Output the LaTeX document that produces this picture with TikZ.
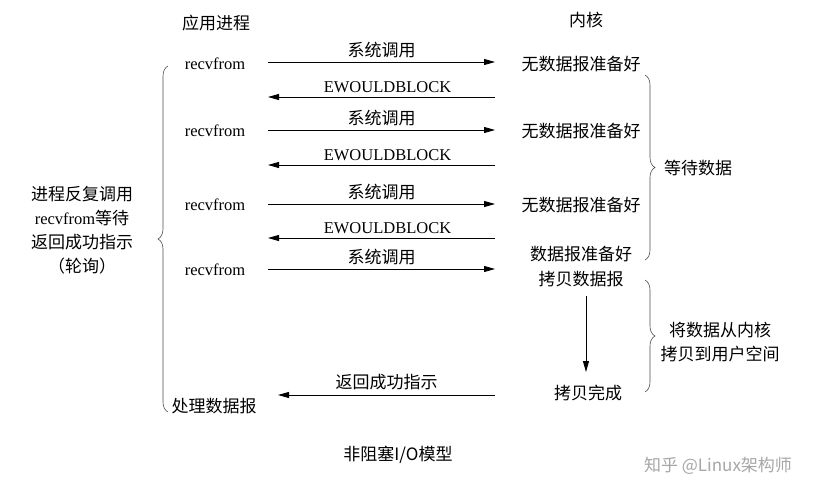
\documentclass[tikz,border=0pt]{standalone}
\usepackage{fontspec}
\setmainfont{Liberation Serif}
\newfontfamily\cjk{Noto Sans CJK SC}
\usetikzlibrary{decorations.pathreplacing,arrows.meta}
\begin{document}
\begin{tikzpicture}[x=1pt,y=-1pt,
  t/.style={font=\fontsize{16.5}{19}\selectfont,inner sep=1pt},
  c/.style={inner sep=1pt,font=\fontsize{17}{20}\selectfont\cjk},
  ar/.style={-{Triangle[length=11pt,width=6pt]},line width=0.8pt},
  br/.style={decorate,decoration={brace,amplitude=10pt},line width=0.6pt,gray!60!black}]
\useasboundingbox (0,0) rectangle (822,500);
\node[c] (hA) at (216,23) {应用进程};
\node[c] (hK) at (586,20) {内核};
\foreach \y/\n in {64/1,131/2,205/3,270/4}{\node[t] (r\n) at (215,\y) {recvfrom};}
\foreach \y/\n in {62/1,130/2,204/3,269/4}{
  \coordinate (s\n) at (268,\y); \coordinate (e\n) at (495,\y);
  \draw[ar] (s\n) -- (e\n) node[c,midway,above=3pt] {系统调用};}
\foreach \y/\n in {97/1,165/2,238/3}{
  \coordinate (a\n) at (495,\y); \coordinate (b\n) at (268,\y);
  \draw[ar] (a\n) -- (b\n) node[t,midway,above=3pt,xshift=6pt] {EWOULDBLOCK};}
\foreach \y/\n in {64/1,131/2,205/3}{\node[c] (k\n) at (581,\y) {无数据报准备好};}
\node[c] (k4) at (581,254) {数据报准备好};
\node[c] (k5) at (581,279) {拷贝数据报};
\node[c] (k6) at (588,393) {拷贝完成};
\coordinate (d1) at (586,296); \coordinate (d2) at (586,372);
\draw[ar] (d1) -- (d2);
\coordinate (ra) at (495,395); \coordinate (rb) at (278,395);
\draw[ar] (ra) -- (rb) node[c,midway,above=4pt] {返回成功指示};
\node[c] (p) at (214,406) {处理数据报};
\coordinate (L1) at (168,412); \coordinate (L2) at (168,66);
\draw[br] (L1) -- (L2);
\node[align=center,inner sep=1pt,font=\fontsize{17}{24}\selectfont\cjk] (lt) at (82,230) {进程反复调用\\{\fontsize{16.5}{24}\selectfont\rmfamily recvfrom}等待\\返回成功指示\\（轮询）};
\coordinate (R1) at (645,75); \coordinate (R2) at (645,260);
\draw[br] (R1) -- (R2);
\node[c] (rt1) at (698,168) {等待数据};
\coordinate (R3) at (645,280); \coordinate (R4) at (645,392);
\draw[br] (R3) -- (R4);
\node[align=center,inner sep=1pt,font=\fontsize{17}{24}\selectfont\cjk] (rt2) at (720,342) {将数据从内核\\拷贝到用户空间};
\node[c] (cap) at (398,455) {非阻塞I/O模型};
\node[gray!70,font=\fontsize{17}{20}\selectfont\cjk] (wm) at (718,466) {知乎 @Linux架构师};
\end{tikzpicture}
\end{document}
